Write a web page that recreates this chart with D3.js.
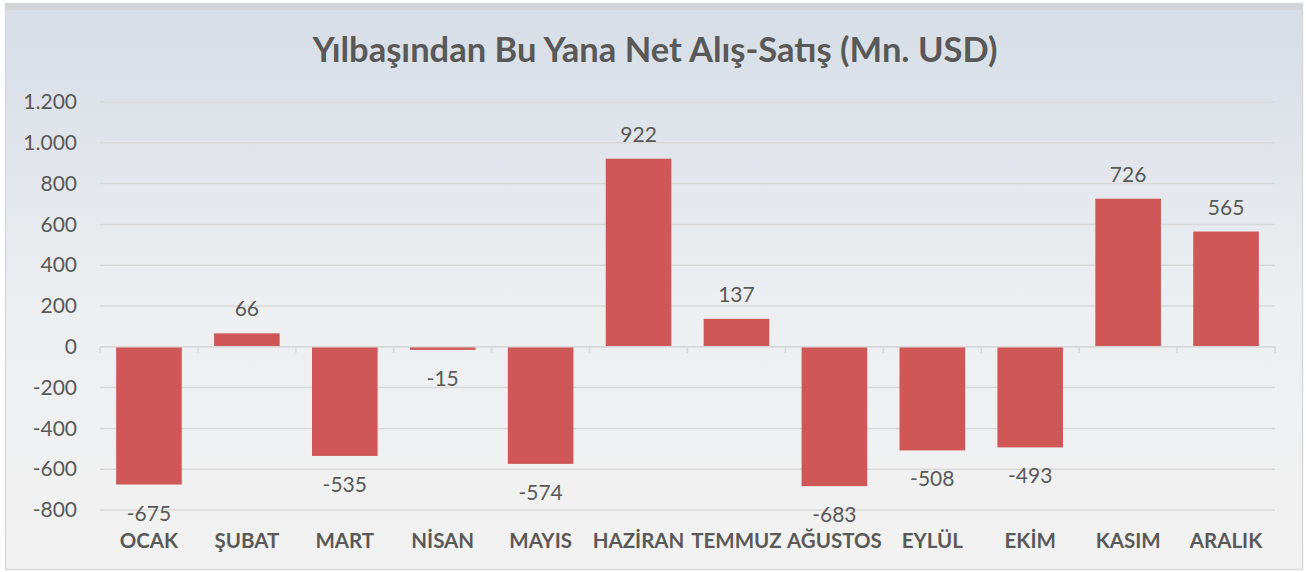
<!DOCTYPE html>
<html>
<head>
<meta charset="utf-8">
<script src="https://cdn.jsdelivr.net/npm/d3@7"></script>
<style>
  body { margin: 0; background: #ffffff; }
  text { font-family: Lato, "Open Sans", sans-serif; fill: #595959; }
</style>
</head>
<body>
<div id="chart-area"></div>
<script>
// chart data
var months = ["OCAK", "ŞUBAT", "MART", "NİSAN", "MAYIS", "HAZİRAN", "TEMMUZ", "AĞUSTOS", "EYLÜL", "EKİM", "KASIM", "ARALIK"];
var netFlows = [-675, 66, -535, -15, -574, 922, 137, -683, -508, -493, 726, 565];
var yTicks = [-800, -600, -400, -200, 0, 200, 400, 600, 800, 1000, 1200];
var chartTitle = "Yılbaşından Bu Yana Net Alış-Satış (Mn. USD)";

var W = 1306, H = 572;
var margin = { left: 100, right: 31, top: 102, bottom: 62 };
var width = W - margin.left - margin.right;
var height = H - margin.top - margin.bottom;

// turkish style numbers, plain hyphen for minus
function fmt(d){
    var s = d3.format(",")(Math.abs(d)).replace(",", ".");
    return d < 0 ? "-" + s : s;
}

var svg = d3.select("#chart-area")
    .append("svg")
        .attr("width", W)
        .attr("height", H);

var defs = svg.append("defs");
var grad = defs.append("linearGradient")
    .attr("id", "bg")
    .attr("x1", 0).attr("y1", 0).attr("x2", 0).attr("y2", 1);
grad.append("stop").attr("offset", "0%").attr("stop-color", "#d6dde6");
grad.append("stop").attr("offset", "55%").attr("stop-color", "#eeeff1");
grad.append("stop").attr("offset", "100%").attr("stop-color", "#f2f2f2");

// chart box
svg.append("rect")
    .attr("x", 5.5).attr("y", 3.5)
    .attr("width", 1297).attr("height", 566)
    .attr("fill", "url(#bg)")
    .attr("stroke", "#d9d9d9")
    .attr("stroke-width", 1.5);
svg.append("rect")
    .attr("x", 6).attr("y", 4)
    .attr("width", 1296).attr("height", 6)
    .attr("fill", "#d2d4d7");

svg.append("text")
    .attr("x", W / 2 + 2)
    .attr("y", 62)
    .attr("text-anchor", "middle")
    .attr("font-size", "34.5px")
    .attr("font-weight", "bold")
    .text(chartTitle);

var g = svg.append("g")
    .attr("transform", "translate(" + margin.left + "," + margin.top + ")");

var yscale = d3.scaleLinear()
    .domain([-800, 1200])
    .range([height, 0]);

var xscale = d3.scaleBand()
    .domain(months)
    .range([0, width])
    .paddingInner(0.33)
    .paddingOuter(0.165);

// gridlines
g.selectAll("line.grid")
    .data(yTicks)
    .enter()
    .append("line")
        .attr("class", "grid")
        .attr("x1", 0)
        .attr("x2", width)
        .attr("y1", function(d){ return yscale(d); })
        .attr("y2", function(d){ return yscale(d); })
        .attr("stroke", "#d9d9d9")
        .attr("stroke-width", 1.5);

// y axis labels
var leftAxis = d3.axisLeft(yscale)
    .tickValues(yTicks)
    .tickSize(0)
    .tickPadding(23)
    .tickFormat(fmt);

var ya = g.append("g").attr("class", "left-axis").call(leftAxis);
ya.select(".domain").remove();
ya.selectAll("text")
    .attr("font-size", "21px")
    .attr("fill", "#595959")
    .style("font-family", "Lato, 'Open Sans', sans-serif");

// bars
g.selectAll("rect.bar")
    .data(netFlows)
    .enter()
    .append("rect")
        .attr("class", "bar")
        .attr("x", function(d, i){ return xscale(months[i]); })
        .attr("width", xscale.bandwidth())
        .attr("y", function(d){ return yscale(Math.max(0, d)); })
        .attr("height", function(d){ return Math.abs(yscale(d) - yscale(0)); })
        .attr("fill", "#cf5757");

// zero axis with ticks between categories
var zeroY = yscale(0);
g.append("line")
    .attr("x1", 0).attr("x2", width)
    .attr("y1", zeroY).attr("y2", zeroY)
    .attr("stroke", "#d9d9d9")
    .attr("stroke-width", 1.5);
var step = xscale.step();
g.selectAll("line.tick")
    .data(d3.range(months.length + 1))
    .enter()
    .append("line")
        .attr("class", "tick")
        .attr("x1", function(i){ return i * step; })
        .attr("x2", function(i){ return i * step; })
        .attr("y1", zeroY)
        .attr("y2", zeroY + 6)
        .attr("stroke", "#d9d9d9")
        .attr("stroke-width", 1.5);

// value labels
g.selectAll("text.val")
    .data(netFlows)
    .enter()
    .append("text")
        .attr("class", "val")
        .attr("x", function(d, i){ return xscale(months[i]) + xscale.bandwidth() / 2; })
        .attr("y", function(d){ return d >= 0 ? yscale(d) - 17 : yscale(d) + 36; })
        .attr("text-anchor", "middle")
        .attr("font-size", "21px")
        .attr("fill", "#404040")
        .text(fmt);

// category labels
g.selectAll("text.cat")
    .data(months)
    .enter()
    .append("text")
        .attr("class", "cat")
        .attr("x", function(d){ return xscale(d) + xscale.bandwidth() / 2; })
        .attr("y", height + 38)
        .attr("text-anchor", "middle")
        .attr("font-size", "20.5px")
        .attr("font-weight", "bold")
        .text(function(d){ return d; });
</script>
</body>
</html>
